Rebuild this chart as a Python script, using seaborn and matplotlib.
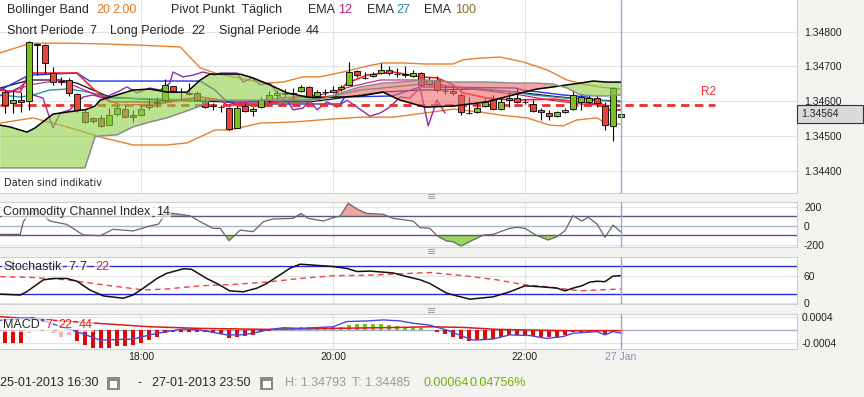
import numpy as np
import matplotlib
matplotlib.use("Agg")
import matplotlib.pyplot as plt
import matplotlib.transforms as mtransforms
from matplotlib.patches import Rectangle
import seaborn as sns

# 5-minute candles, EUR/USD, 25-01-2013
opens = [1.34626, 1.34595, 1.34603, 1.34600, 1.34765, 1.34762, 1.34681, 1.34658, 1.34661, 1.34621,
         1.34569, 1.34552, 1.34552, 1.34531, 1.34563, 1.34577, 1.34560, 1.34560, 1.34583, 1.34595,
         1.34603, 1.34644, 1.34626, 1.34624, 1.34624, 1.34600, 1.34586, 1.34583, 1.34580, 1.34523,
         1.34586, 1.34572, 1.34583, 1.34603, 1.34618, 1.34622, 1.34624, 1.34629, 1.34641, 1.34615,
         1.34626, 1.34626, 1.34635, 1.34647, 1.34687, 1.34667, 1.34672, 1.34681, 1.34690, 1.34678,
         1.34675, 1.34672, 1.34681, 1.34649, 1.34661, 1.34630, 1.34629, 1.34618, 1.34567, 1.34569,
         1.34586, 1.34606, 1.34577, 1.34609, 1.34609, 1.34598, 1.34592, 1.34575, 1.34566, 1.34557,
         1.34569, 1.34577, 1.34598, 1.34598, 1.34609, 1.34586, 1.34529, 1.34554]
highs = [1.34632, 1.34632, 1.34626, 1.34772, 1.34767, 1.34765, 1.34698, 1.34670, 1.34667, 1.34624,
         1.34575, 1.34554, 1.34560, 1.34580, 1.34589, 1.34589, 1.34575, 1.34589, 1.34609, 1.34612,
         1.34664, 1.34644, 1.34638, 1.34652, 1.34629, 1.34606, 1.34595, 1.34589, 1.34583, 1.34586,
         1.34595, 1.34583, 1.34612, 1.34629, 1.34632, 1.34635, 1.34638, 1.34647, 1.34644, 1.34632,
         1.34635, 1.34644, 1.34647, 1.34713, 1.34690, 1.34684, 1.34684, 1.34710, 1.34701, 1.34696,
         1.34701, 1.34690, 1.34684, 1.34670, 1.34672, 1.34644, 1.34641, 1.34624, 1.34612, 1.34595,
         1.34609, 1.34618, 1.34609, 1.34626, 1.34641, 1.34606, 1.34603, 1.34580, 1.34575, 1.34572,
         1.34580, 1.34632, 1.34624, 1.34618, 1.34618, 1.34598, 1.34641, 1.34569]
lows = [1.34566, 1.34566, 1.34569, 1.34574, 1.34675, 1.34681, 1.34647, 1.34647, 1.34615, 1.34569,
        1.34537, 1.34537, 1.34526, 1.34531, 1.34557, 1.34554, 1.34540, 1.34557, 1.34575, 1.34583,
        1.34598, 1.34626, 1.34603, 1.34618, 1.34600, 1.34580, 1.34575, 1.34569, 1.34517, 1.34523,
        1.34569, 1.34557, 1.34580, 1.34598, 1.34609, 1.34612, 1.34609, 1.34626, 1.34609, 1.34612,
        1.34618, 1.34624, 1.34629, 1.34647, 1.34670, 1.34664, 1.34670, 1.34678, 1.34675, 1.34670,
        1.34670, 1.34670, 1.34647, 1.34647, 1.34626, 1.34621, 1.34618, 1.34560, 1.34563, 1.34566,
        1.34583, 1.34575, 1.34575, 1.34583, 1.34595, 1.34592, 1.34569, 1.34546, 1.34546, 1.34554,
        1.34566, 1.34575, 1.34575, 1.34595, 1.34583, 1.34517, 1.34485, 1.34552]
closes = [1.34589, 1.34603, 1.34597, 1.34770, 1.34762, 1.34710, 1.34655, 1.34656, 1.34624, 1.34575,
          1.34540, 1.34543, 1.34529, 1.34560, 1.34580, 1.34554, 1.34554, 1.34577, 1.34589, 1.34598,
          1.34647, 1.34629, 1.34625, 1.34621, 1.34603, 1.34583, 1.34585, 1.34582, 1.34520, 1.34580,
          1.34572, 1.34577, 1.34603, 1.34618, 1.34624, 1.34624, 1.34622, 1.34641, 1.34612, 1.34626,
          1.34627, 1.34632, 1.34641, 1.34684, 1.34675, 1.34668, 1.34678, 1.34690, 1.34681, 1.34679,
          1.34678, 1.34681, 1.34647, 1.34661, 1.34632, 1.34629, 1.34624, 1.34569, 1.34566, 1.34580,
          1.34600, 1.34577, 1.34598, 1.34603, 1.34598, 1.34597, 1.34572, 1.34569, 1.34557, 1.34569,
          1.34575, 1.34618, 1.34612, 1.34609, 1.34595, 1.34531, 1.34638, 1.34564]

tick_pos = [17, 41, 65, 77]
tick_labels = ['18:00', '20:00', '22:00', '27 Jan']
now_x = 77

pivot_r2 = 1.34590

# Bollinger band 20 / 2.00
bb_up_x = [-0.6, 2.5, 4, 7.75, 11.9, 16, 21.9, 24.4, 26.25, 29.75, 32.75, 34.75, 37.25, 39.4, 42.25,
           45.25, 47.25, 49.75, 52.5, 56, 57.25, 59.4, 61.9, 64.75, 67.75, 70.25, 72.25, 74.4, 76.9]
bb_upper = [1.34739, 1.34762, 1.34767, 1.34767, 1.34765, 1.34762, 1.34756, 1.34696, 1.34681, 1.34664,
            1.34652, 1.34655, 1.34670, 1.34670, 1.34684, 1.34701, 1.34710, 1.34710, 1.34707, 1.34707,
            1.34719, 1.34724, 1.34727, 1.34713, 1.34690, 1.34661, 1.34649, 1.34641, 1.34635]
bb_lo_x = [-0.6, 3.5, 7.75, 11.9, 16, 20.25, 22.75, 26.25, 28.1, 31.9, 36, 41, 44.4, 48.5, 52.5,
           56, 59.4, 61.9, 65.25, 68.1, 69.75, 71.5, 74, 75.25, 76.9]
bb_lower = [1.34537, 1.34552, 1.34526, 1.34497, 1.34474, 1.34474, 1.34480, 1.34517, 1.34517, 1.34537,
            1.34540, 1.34549, 1.34554, 1.34554, 1.34566, 1.34577, 1.34569, 1.34560, 1.34552, 1.34531,
            1.34529, 1.34546, 1.34552, 1.34534, 1.34534]
bb_mid_x = [-0.6, 3.1, 6.9, 9, 11, 13.1, 19.4, 27.75, 38.1, 41.9, 46.9, 51.9, 59.4, 64, 69.4, 74.4, 76.9]
bb_mid = [1.34638, 1.34661, 1.34661, 1.34652, 1.34632, 1.34612, 1.34603, 1.34598, 1.34598, 1.34609,
          1.34626, 1.34632, 1.34635, 1.34626, 1.34612, 1.34603, 1.34600]

# EMA 12 / 27
ema12_x = [-0.6, 3.1, 6.9, 10.6, 14.4, 19.4, 24.4, 29.4, 34.4, 39.4, 43.1, 46.9, 51.9, 56, 59.4,
           64.4, 68.1, 71.9, 76.9]
ema12 = [1.34615, 1.34647, 1.34661, 1.34626, 1.34589, 1.34592, 1.34612, 1.34595, 1.34609, 1.34618,
         1.34641, 1.34661, 1.34661, 1.34641, 1.34632, 1.34618, 1.34603, 1.34592, 1.34586]
ema27_x = [-0.6, 1.9, 3.5, 5.6, 7.75, 9.75, 11.9, 13.1, 26.25, 27.75, 38.1, 41.5, 44.4, 47.25, 51.9,
           63.75, 65.9, 70, 76.9]
ema27 = [1.34618, 1.34612, 1.34618, 1.34632, 1.34635, 1.34629, 1.34618, 1.34609, 1.34603, 1.34598,
         1.34606, 1.34618, 1.34632, 1.34638, 1.34649, 1.34626, 1.34618, 1.34609, 1.34598]

# Ichimoku 7 / 22 / 44
tenkan_x = [-0.6, 1.9, 3, 9, 10.9, 13.1, 20.25, 24.4, 26.9, 27.75, 31.9, 34, 36.9, 41, 42.75, 45.25,
            48.5, 51.9, 54, 56, 57.25, 60.25, 63.5, 68.5, 71.9, 74.4, 75.25, 76.9]
tenkan = [1.34632, 1.34626, 1.34681, 1.34681, 1.34638, 1.34598, 1.34598, 1.34612, 1.34603, 1.34589,
          1.34589, 1.34598, 1.34612, 1.34612, 1.34652, 1.34675, 1.34684, 1.34670, 1.34667, 1.34647,
          1.34624, 1.34609, 1.34603, 1.34606, 1.34598, 1.34589, 1.34575, 1.34575]
kijun_x = [-0.6, 3, 9, 10.6, 24.4, 26.25, 27.75, 28.75, 41.9, 42.5, 48.4, 51.9, 63.75, 64.75, 69.75,
           72.75, 74.4, 75.25, 76.9]
kijun = [1.34632, 1.34675, 1.34681, 1.34658, 1.34658, 1.34632, 1.34598, 1.34592, 1.34592, 1.34612,
         1.34615, 1.34641, 1.34638, 1.34632, 1.34618, 1.34612, 1.34598, 1.34575, 1.34575]
chikou_x = [-0.6, 0.6, 1.9, 2.9, 3.5, 4.75, 6, 6.9, 8.1, 9.75, 11, 12.25, 14, 15.25, 16.5, 18.1,
            19.4, 20.6, 21, 22.25, 23.5, 24.75, 26.25, 26.9, 29, 29.75, 30.9, 31.9, 33.1, 34.4, 35.25,
            36, 37.25, 38.1, 39, 40.25, 41.5, 42.75, 44, 45.6, 46.9, 48.1, 49.4, 50.6, 51.9, 52.9, 54, 55]
chikou = [1.34638, 1.34626, 1.34641, 1.34661, 1.34618, 1.34609, 1.34523, 1.34566, 1.34575, 1.34612,
          1.34618, 1.34609, 1.34626, 1.34641, 1.34624, 1.34638, 1.34632, 1.34652, 1.34684, 1.34670,
          1.34675, 1.34684, 1.34675, 1.34681, 1.34681, 1.34655, 1.34667, 1.34647, 1.34652, 1.34612,
          1.34603, 1.34575, 1.34580, 1.34603, 1.34575, 1.34598, 1.34583, 1.34603, 1.34583, 1.34557,
          1.34566, 1.34583, 1.34612, 1.34609, 1.34638, 1.34529, 1.34603, 1.34566]
cloud_x = [-0.6, 0.6, 2.75, 3.75, 6, 9.75, 10, 11.25, 11.9, 14, 16, 18.1, 20.25, 22.75, 24.4, 25.6,
           29.4, 31, 33.1, 35.25, 37.75, 39.4, 41, 42.25, 44.4, 47.25, 49.4, 52.5, 56, 60.25, 64,
           66.5, 68.5, 70.25, 71.9, 73.5, 75.25, 77]
span_a = [1.34531, 1.34526, 1.34511, 1.34523, 1.34563, 1.34575, 1.34575, 1.34586, 1.34603, 1.34618,
          1.34632, 1.34635, 1.34626, 1.34626, 1.34661, 1.34678, 1.34678, 1.34667, 1.34647, 1.34624,
          1.34612, 1.34609, 1.34612, 1.34612, 1.34615, 1.34626, 1.34603, 1.34583, 1.34586, 1.34598,
          1.34621, 1.34635, 1.34641, 1.34647, 1.34652, 1.34658, 1.34655, 1.34655]
span_b = [1.34408, 1.34408, 1.34408, 1.34408, 1.34408, 1.34408, 1.34408, 1.34497, 1.34500, 1.34503,
          1.34526, 1.34540, 1.34552, 1.34572, 1.34586, 1.34603, 1.34603, 1.34603, 1.34603, 1.34603,
          1.34603, 1.34606, 1.34615, 1.34626, 1.34641, 1.34652, 1.34655, 1.34661, 1.34655, 1.34655,
          1.34652, 1.34652, 1.34649, 1.34638, 1.34618, 1.34615, 1.34615, 1.34618]

# Commodity Channel Index 14
cci_x = [-0.6, 1.9, 2.3, 3.1, 4.0, 5.6, 7.7, 9.8, 11.9, 13.5, 16.0, 18.1, 19.2, 20.0, 21.0, 23.1,
         24.4, 26.0, 26.9, 28.0, 29.4, 31.0, 32.3, 33.5, 36.0, 37.0, 37.9, 39.8, 41.0, 41.9, 42.9,
         44.2, 45.2, 47.3, 48.5, 51.0, 51.9, 53.1, 54.0, 55.2, 56.0, 57.0, 58.5, 59.8, 61.0, 63.1,
         64.0, 65.0, 66.5, 67.9, 69.0, 70.0, 71.0, 72.1, 72.9, 74.0, 75.0, 76.0, 77.1]
cci = [-92, -92, 43, 149, 167, 50, 14, -99, -106, -38, -56, -3, 18, 121, 131, 106, 43, -28, -28,
       -160, -46, -64, 43, 71, 78, 131, 78, 50, 85, 103, 238, 167, 131, 121, 78, 50, -21, -28, -106,
       -163, -170, -216, -152, -99, -92, -28, -17, -28, -106, -152, -117, -53, 106, 50, 89, 18, -123,
       7, -74]

# Stochastik 7 7 22
stoch_k_x = [-0.6, 1.9, 2.7, 4.8, 6.1, 7.7, 9.0, 10.6, 12.3, 14.8, 16.0, 17.3, 19.0, 20.2, 22.3,
             23.3, 25.2, 26.5, 28.1, 29.8, 31.5, 32.7, 34.4, 35.6, 36.9, 38.5, 41.0, 42.7, 44.0, 45.6,
             48.5, 49.8, 51.9, 53.1, 55.2, 56.5, 58.1, 61.0, 63.1, 65.0, 66.9, 69.0, 70.0, 71.0, 72.1,
             73.1, 74.0, 75.0, 76.0, 77.0]
stoch_k = [20, 18, 25, 51, 54, 54, 48, 29, 16, 11, 18, 33, 54, 65, 75, 74, 54, 43, 27, 25, 33, 43,
           62, 76, 85, 83, 80, 76, 69, 70, 66, 60, 51, 43, 22, 16, 9, 14, 25, 38, 36, 33, 27, 33, 38,
           46, 48, 47, 59, 60]
stoch_d_x = [-0.6, 3.5, 7.7, 11.9, 17.3, 20.2, 24.4, 28.5, 32.7, 36.9, 41.0, 45.2, 49.4, 53.1, 57.3,
             61.5, 65.0, 67.7, 71.9, 74.0, 77.0]
stoch_d = [58, 56, 51, 41, 29, 31, 38, 41, 46, 54, 60, 61, 64, 67, 60, 51, 40, 36, 27, 29, 31]

# MACD 7 22 44
macd_hist = [-0.00041, -0.00041, -0.00041, -0.00010, -0.00004, -0.00003, -0.00010, -0.00020, -0.00015, -0.00033,
             -0.00046, -0.00054, -0.00056, -0.00056, -0.00050, -0.00048, -0.00046, -0.00041, -0.00031, -0.00020,
             -0.00010, -0.00007, -0.00005, -0.00005, -0.00007, -0.00007, -0.00010, -0.00013, -0.00024, -0.00020,
             -0.00018, -0.00015, -0.00007, -0.00003, -0.00001, 0.00007, 0.00007, 0.00008, 0.00008, 0.00008,
             0.00008, 0.00008, 0.00010, 0.00015, 0.00017, 0.00017, 0.00017, 0.00017, 0.00015, 0.00012,
             0.00010, 0.00007, 0.00005, 0.00001, -0.00007, -0.00013, -0.00020, -0.00028, -0.00033, -0.00031,
             -0.00029, -0.00028, -0.00020, -0.00015, -0.00015, -0.00015, -0.00017, -0.00020, -0.00020, -0.00020,
             -0.00015, -0.00007, -0.00005, -0.00007, -0.00005, -0.00013, -0.00005, -0.00003]
macd_x = [-0.6, 3.5, 9.0, 11.9, 16.0, 18.1, 20.2, 22.3, 24.4, 27.7, 29.4, 31.0, 32.7, 34.8, 36.9,
          41.0, 42.7, 45.2, 47.3, 49.4, 51.0, 53.1, 55.2, 57.3, 58.5, 61.0, 63.1, 65.6, 67.7, 69.8,
          71.0, 74.0, 75.0, 76.0, 77.1]
macd_line = [0.00030, 0.00038, -0.00005, -0.00031, -0.00028, -0.00015, -0.00005, 0.00003, 0.0, -0.00015,
             -0.00015, -0.00010, 0.0, 0.00007, 0.00005, 0.00010, 0.00026, 0.00028, 0.00031, 0.00028,
             0.00021, 0.00015, 0.0, -0.00020, -0.00031, -0.00028, -0.00015, -0.00017, -0.00026, -0.00020,
             -0.00010, -0.00005, -0.00015, -0.00005, -0.00010]
signal_x = [-0.6, 11.9, 18.1, 24.4, 32.7, 41.0, 49.4, 53.1, 57.3, 61.5, 65.6, 69.8, 77.1]
macd_signal = [0.00041, 0.00020, 0.00010, 0.00005, 0.00002, 0.00005, 0.00008, 0.00010, 0.00008,
               0.00002, 0.0, -0.00002, -0.00002]

sns.set_style("white")
plt.rcParams['font.family'] = ['Liberation Sans', 'DejaVu Sans']

W, H = 864, 397
BG = '#f3f3f0'
GRID = '#e2e2e2'
SPINE = '#cfcfcf'
RED = '#e8463c'
GREEN = '#7cc21c'

fig = plt.figure(figsize=(W / 100, H / 100), dpi=100, facecolor=BG)


def panel(top, bottom):
    return fig.add_axes([0, 1 - bottom / H, 797 / W, (bottom - top) / H])


def ftext(x, y, s, **kw):
    kw.setdefault('fontsize', 9)
    kw.setdefault('ha', 'left')
    return fig.text(x / W, 1 - y / H, s, va='center', **kw)


def line(a, x, y, color, lw=1.0, z=2, **kw):
    sns.lineplot(x=x, y=y, ax=a, color=color, lw=lw, zorder=z,
                 estimator=None, sort=False, legend=False, **kw)


ax = panel(0, 192.5)
ax_cci = panel(201.7, 246.7)
ax_sto = panel(256.7, 304.3)
ax_macd = panel(314, 349)

for a in [ax, ax_cci, ax_sto, ax_macd]:
    a.set_facecolor('white')
    a.set_xticks(tick_pos)
    a.grid(True, color=GRID, lw=0.8)
    a.set_axisbelow(True)
    a.yaxis.tick_right()
    a.tick_params(length=0, labelsize=7.5, pad=5, labelbottom=False, labelcolor='#222222')
    for s in a.spines.values():
        s.set_color(SPINE)
        s.set_linewidth(0.8)
    a.spines['left'].set_visible(False)
    a.axvline(now_x, color='#97a6d6', lw=1, zorder=7)

# ---- main price panel
times = np.arange(len(opens))
o, h, l, c = map(np.array, (opens, highs, lows, closes))
line(ax, bb_up_x, bb_upper, '#e8802c')
line(ax, bb_lo_x, bb_lower, '#e8802c')
line(ax, bb_mid_x, bb_mid, '#111111', lw=0.9)
line(ax, ema27_x, ema27, '#2596a6')
line(ax, ema12_x, ema12, '#c0187e', lw=0.8)
line(ax, kijun_x, kijun, '#2233ee')
line(ax, tenkan_x, tenkan, '#ff1c1c', lw=1.2)
line(ax, chikou_x, chikou, '#8e2fa8')
ax.hlines(pivot_r2, -0.625, 88.7, color='#e83030', lw=2, linestyles=(0, (3, 2)), zorder=2)
ax.text(87.9, 1.34626, 'R2', color='#e83030', fontsize=8.5, ha='center', va='center')

ax.vlines(times, l, h, color='black', lw=0.8, zorder=3)
ax.bar(times, c - o, bottom=o, width=0.72, color=np.where(c >= o, GREEN, RED),
       edgecolor='black', lw=0.6, zorder=3)

sa, sb = np.array(span_a), np.array(span_b)
ax.fill_between(cloud_x, sa, sb, where=sa >= sb, interpolate=True, color='#8ccf45',
                alpha=0.6, lw=0, zorder=4)
ax.fill_between(cloud_x, sa, sb, where=sa < sb, interpolate=True, color='#ee6b6b',
                alpha=0.6, lw=0, zorder=4)
line(ax, cloud_x, span_a, '#000000', lw=1.1, z=5)
line(ax, cloud_x, span_b, '#8c8c8c', lw=1.1, z=5)

ax.set_xlim(-0.625, 99.0)
ax.set_ylim(1.343372, 1.348912)
price_ticks = [1.344, 1.345, 1.346, 1.347, 1.348]
ax.set_yticks(price_ticks)
ax.set_yticklabels([f'{p:.5f}' for p in price_ticks])
ax.spines['top'].set_visible(False)

trans = mtransforms.blended_transform_factory(ax.transAxes, ax.transData)
half = 9 * (1.348912 - 1.343372) / 192.5
ax.add_patch(Rectangle((1.0, closes[-1] - half), 66 / 797, 2 * half, transform=trans,
                       clip_on=False, fc='#dadada', ec='#333333', lw=0.8, zorder=10))
ax.text(1.0 + 4 / 797, closes[-1], f'{closes[-1]:.5f}', transform=trans, va='center',
        ha='left', fontsize=7.5, zorder=11, clip_on=False)

# ---- CCI
cx, cv = np.array(cci_x), np.array(cci)
ax_cci.fill_between(cx, cv, 100, where=cv > 100, interpolate=True, color='#e58a8a', alpha=0.75, lw=0)
ax_cci.fill_between(cx, cv, -100, where=cv < -100, interpolate=True, color='#8fd14f', alpha=0.9, lw=0)
ax_cci.axhline(100, color='#5a5a78', lw=1)
ax_cci.axhline(-100, color='#5a5a78', lw=1)
ax_cci.axhline(0, color='#a9b9cc', lw=1)
line(ax_cci, cci_x, cci, '#666666', lw=0.9, z=3)
ax_cci.set_xlim(-0.625, 99.0)
ax_cci.set_ylim(-223, 255)
ax_cci.set_yticks([-200, 0, 200])
ax_cci.set_yticklabels(['-200', '0', '200'])

# ---- Stochastik
ax_sto.axhline(80, color='#2a2ad8', lw=1)
ax_sto.axhline(20, color='#2a2ad8', lw=1)
line(ax_sto, stoch_d_x, stoch_d, '#f04040', lw=1.0, z=3, linestyle=(0, (4, 3)))
line(ax_sto, stoch_k_x, stoch_k, '#111111', lw=1.1, z=4)
ax_sto.set_xlim(-0.625, 99.0)
ax_sto.set_ylim(-2.2, 101.3)
ax_sto.set_yticks([0, 60])
ax_sto.set_yticklabels(['0', '60'])

# ---- MACD
hist = np.array(macd_hist)
bar_colors = np.where(hist >= 0, '#7cc21c', '#dd0a0a').astype(object)
bar_colors[3:9] = '#f4b4b4'
ax_macd.axhline(0, color='#9fb0c8', lw=1, zorder=1)
ax_macd.bar(times, hist, width=0.62, color=list(bar_colors), lw=0, zorder=2)
line(ax_macd, signal_x, macd_signal, '#e01818', lw=1.1, z=3)
line(ax_macd, macd_x, macd_line, '#4848e0', lw=1.0, z=4)
ax_macd.set_xlim(-0.625, 99.0)
ax_macd.set_ylim(-0.000585, 0.000493)
ax_macd.set_yticks([-0.0004, 0.0004])
ax_macd.set_yticklabels(['-0.0004', '0.0004'])
ax_macd.tick_params(labelbottom=True, pad=3)
ax_macd.tick_params(axis='x', pad=2)
ax_macd.set_xticklabels(tick_labels)
ax_macd.get_xticklabels()[-1].set_color('#8090c8')

# ---- panel captions
ftext(7, 10, 'Bollinger Band')
ftext(96, 10, '20', color='#e07820')
ftext(112, 10, '2.00', color='#e07820')
ftext(171, 10, 'Pivot Punkt  Täglich')
ftext(308, 10, 'EMA')
ftext(338, 10, '12', color='#c0187e')
ftext(367, 10, 'EMA')
ftext(396, 10, '27', color='#1b8a9a')
ftext(424, 10, 'EMA')
ftext(455, 10, '100', color='#8a6a2a')
ftext(7, 31, 'Short Periode')
ftext(89, 31, '7')
ftext(110, 31, 'Long Periode')
ftext(191, 31, '22')
ftext(219, 31, 'Signal Periode')
ftext(306, 31, '44')
ftext(4, 183, 'Daten sind indikativ', fontsize=7, family='DejaVu Sans')

box = dict(boxstyle='square,pad=0.1', fc='white', ec='none', alpha=0.65)
ftext(3, 212, 'Commodity Channel Index', bbox=box)
ftext(156, 212, '14', bbox=box)
ftext(3, 267, 'Stochastik', bbox=box)
ftext(68, 267, '7', bbox=box)
ftext(79, 267, '7', bbox=box)
ftext(95, 267, '22', color='#e82020', bbox=box)
ftext(3, 325, 'MACD', bbox=box)
ftext(45, 325, '7', color='#e82020', bbox=box)
ftext(58, 325, '22', color='#e82020', bbox=box)
ftext(79, 325, '44', color='#e82020', bbox=box)

for gy in (197, 252, 311):
    ftext(432, gy, '≡', fontsize=8, ha='center', color='#9a9a9a', family='DejaVu Sans')

# ---- footer
ftext(0, 383, '25-01-2013 16:30')
ftext(137, 383, '-')
ftext(152, 383, '27-01-2013 23:50')
ftext(285, 383, 'H: 1.34793', color='#999999')
ftext(352, 383, 'T: 1.34485', color='#999999')
ftext(423, 383, '0.00064', color='#66b800')
ftext(469, 383, '0.04756%', color='#66b800')
for cx0 in (107, 260):
    fig.add_artist(Rectangle((cx0 / W, 1 - 390 / H), 13 / W, 13 / H, transform=fig.transFigure,
                             fc='#8a8a8a', ec='none'))
    fig.add_artist(Rectangle(((cx0 + 2.5) / W, 1 - 387.5 / H), 8 / W, 7 / H,
                             transform=fig.transFigure, fc='white', ec='none'))

fig.savefig('out.png', dpi=100, facecolor=BG)
